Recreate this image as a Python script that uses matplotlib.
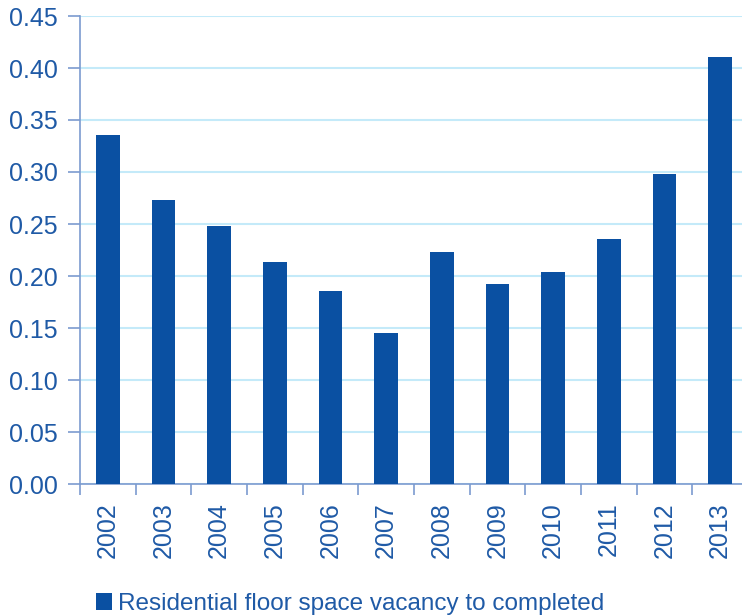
import matplotlib
matplotlib.use("Agg")
import matplotlib.pyplot as plt
import numpy as np

years = ["2002", "2003", "2004", "2005", "2006", "2007",
         "2008", "2009", "2010", "2011", "2012", "2013"]
vacancy = [0.336, 0.273, 0.248, 0.213, 0.186, 0.145,
           0.223, 0.192, 0.204, 0.236, 0.298, 0.411]
series_name = "Residential floor space vacancy to completed"

bar_col = "#0A50A2"
text_col = "#1F5AA6"
axis_col = "#7C9BCF"
grid_col = "#C4EAF9"

plt.rcParams["font.family"] = ["Liberation Sans", "DejaVu Sans"]

fig = plt.figure(figsize=(7.42, 6.15), dpi=100)
ax = fig.add_axes([80 / 742, 1 - 484 / 615, 668 / 742, 468 / 615])

x = np.arange(len(years))
ax.bar(x, vacancy, width=0.43, color=bar_col, zorder=3, label=series_name)

ax.set_xlim(-0.5, len(years) - 0.5)
ax.set_ylim(0, 0.45)
ax.set_yticks(np.arange(0, 0.451, 0.05))
ax.set_yticklabels(["%.2f" % v for v in np.arange(0, 0.451, 0.05)])
ax.yaxis.grid(True, color=grid_col, linewidth=1.5, zorder=0)
ax.set_axisbelow(True)

ax.set_xticks(x)
ax.set_xticklabels(years, rotation=90)
ax.set_xticks(np.arange(-0.5, len(years), 1.0), minor=True)
ax.tick_params(axis="x", which="major", length=0, pad=13, labelsize=18, labelcolor=text_col)
ax.tick_params(axis="x", which="minor", length=8, width=1.2, color=axis_col)
ax.tick_params(axis="y", length=9, width=1.2, color=axis_col, labelsize=18,
               labelcolor=text_col, pad=7)

for s in ["top", "right"]:
    ax.spines[s].set_visible(False)
for s in ["left", "bottom"]:
    ax.spines[s].set_color(axis_col)
    ax.spines[s].set_linewidth(1.2)

fig.legend(loc="lower left", bbox_to_anchor=(96 / 742, 0.0), frameon=False,
           borderpad=0, borderaxespad=0,
           fontsize=17.5, handlelength=0.66, handleheight=0.66, handletextpad=0.24,
           labelcolor=text_col)

fig.savefig("out.png", dpi=100)
